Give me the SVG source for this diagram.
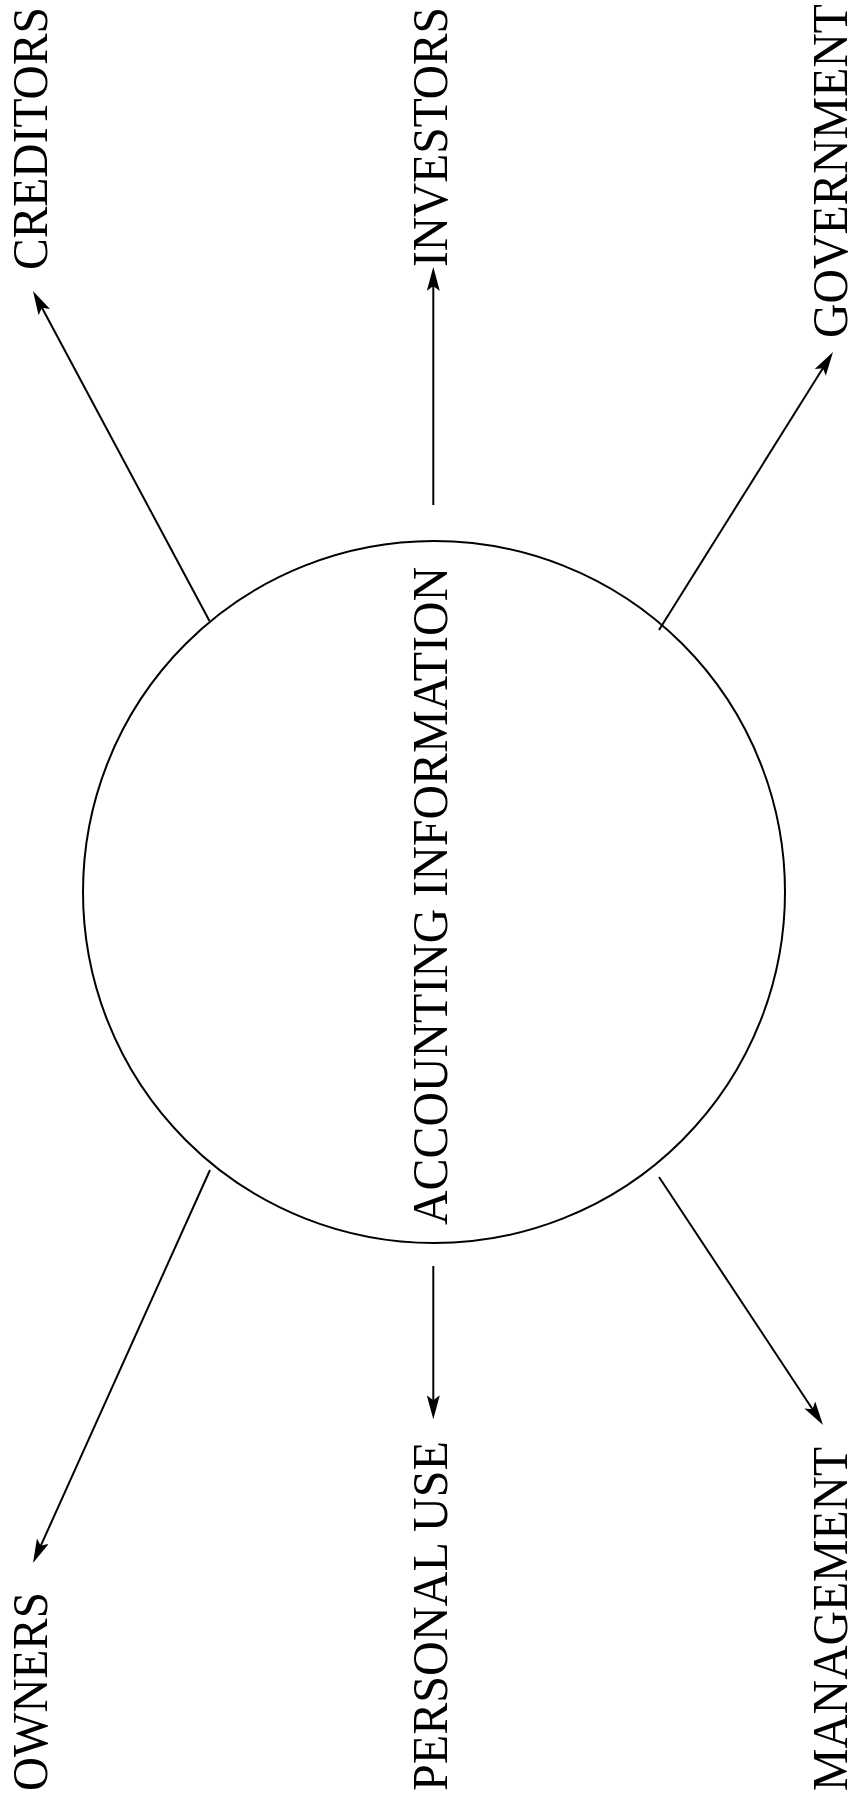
<svg xmlns="http://www.w3.org/2000/svg" width="860" height="1796" viewBox="0 0 860 1796">
<style>
.lbl{font-family:"Liberation Serif","Times New Roman",serif;font-size:51px;fill:#000}
.ln{stroke:#000;stroke-width:2;fill:none;marker-end:url(#ah)}
</style>
<defs>
<marker id="ah" markerUnits="userSpaceOnUse" viewBox="0 0 24 13" markerWidth="24" markerHeight="13" refX="14" refY="6.5" orient="auto">
<path d="M0,0 L24,6.5 L0,13 L5,6.5 Z" fill="#000"/>
</marker>
</defs>
<rect width="860" height="1796" fill="#fff"/>
<g id="center">
<circle cx="434" cy="892" r="351" fill="none" stroke="#000" stroke-width="2"/>
<text class="lbl" transform="translate(447,1225) rotate(-90)" textLength="658" lengthAdjust="spacingAndGlyphs">ACCOUNTING INFORMATION</text>
</g>
<g id="creditors"><text class="lbl" transform="translate(47,270) rotate(-90)" textLength="263" lengthAdjust="spacingAndGlyphs">CREDITORS</text></g>
<g id="investors"><text class="lbl" transform="translate(447,267) rotate(-90)" textLength="260" lengthAdjust="spacingAndGlyphs">INVESTORS</text></g>
<g id="government"><text class="lbl" transform="translate(847,338) rotate(-90)" textLength="334" lengthAdjust="spacingAndGlyphs">GOVERNMENT</text></g>
<g id="owners"><text class="lbl" transform="translate(47,1791) rotate(-90)" textLength="199" lengthAdjust="spacingAndGlyphs">OWNERS</text></g>
<g id="personal-use"><text class="lbl" transform="translate(447,1791) rotate(-90)" textLength="350" lengthAdjust="spacingAndGlyphs">PERSONAL USE</text></g>
<g id="management"><text class="lbl" transform="translate(847,1791) rotate(-90)" textLength="344" lengthAdjust="spacingAndGlyphs">MANAGEMENT</text></g>
<g id="connectors">
<line class="ln" x1="209.5" y1="621" x2="37.7" y2="299.8"/>
<line class="ln" x1="433.3" y1="505" x2="433.3" y2="277"/>
<line class="ln" x1="659" y1="630" x2="827.7" y2="360.5"/>
<line class="ln" x1="210" y1="1170" x2="37.1" y2="1553.9"/>
<line class="ln" x1="433.3" y1="1266" x2="433.3" y2="1409.3"/>
<line class="ln" x1="659" y1="1177" x2="817.5" y2="1416.7"/>
</g>
</svg>
